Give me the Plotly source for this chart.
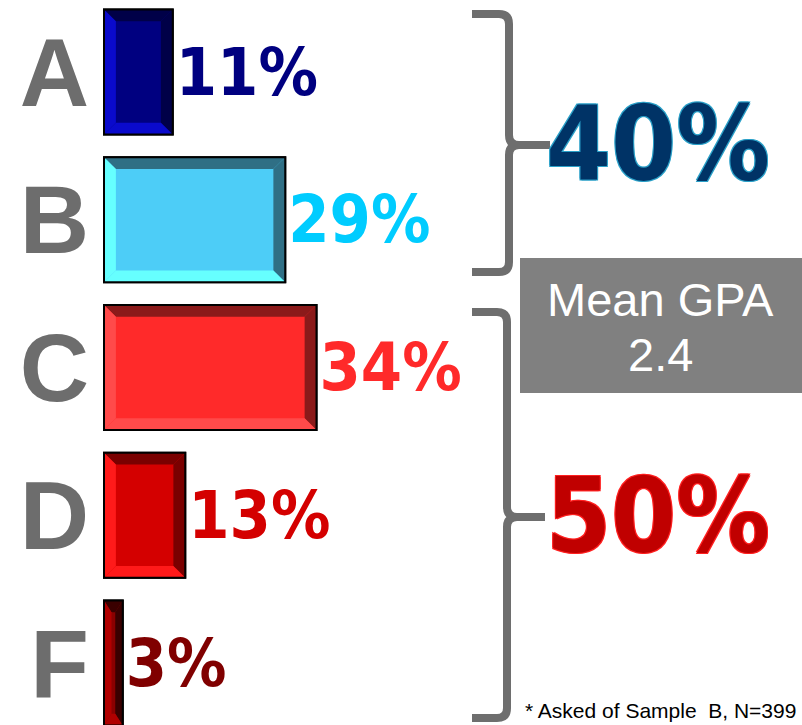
import plotly.graph_objects as go

grades = ["A", "B", "C", "D", "F"]
shares = [11, 29, 34, 13, 3]
bar_colors = ["#000080", "#4dcdf7", "#ff2a2a", "#d40000", "#8b0000"]
light_edge = ["#0a0acc", "#66ffff", "#ff4a4a", "#ff1a1a", "#b00000"]
dark_edge = ["#000048", "#2f6f85", "#8b1a1a", "#7a0000", "#3a0000"]
label_colors = ["#000080", "#00ccff", "#ff2a2a", "#d40000", "#800000"]
groups = ["40%", "50%"]
mean_gpa = "2.4"
footnote = "* Asked of Sample  B, N=399"

W, H = 802, 725
L = 100  # left margin in px
COND = "DejaVu Sans Condensed, Liberation Sans"


def px(x):
    return (x - L) / (W - L)


def py(y):
    return 1 - y / H


pos = list(range(len(grades)))
thick = 0.846

fig = go.Figure()
fig.add_trace(
    go.Bar(
        y=pos,
        x=shares,
        orientation="h",
        width=thick,
        marker=dict(color=bar_colors, line=dict(color="black", width=2)),
        text=[f"{v}%" for v in shares],
        textposition="outside",
        constraintext="none",
        cliponaxis=False,
        textfont=dict(family=COND, size=66, color=label_colors, weight="bold"),
        hoverinfo="skip",
    )
)

# bevel edges on every bar
bx, by = 1.9, 0.08
shapes = []
for i, v in enumerate(shares):
    top, bot = i - thick / 2, i + thick / 2
    b = min(bx, v / 2.5)
    polys = [
        ([(0, top), (v, top), (v - b, top + by), (b, top + by)], dark_edge[i]),
        ([(v, top), (v, bot), (v - b, bot - by), (v - b, top + by)], dark_edge[i]),
        ([(0, top), (b, top + by), (b, bot - by), (0, bot)], light_edge[i]),
        ([(0, bot), (b, bot - by), (v - b, bot - by), (v, bot)], light_edge[i]),
    ]
    for pts, col in polys:
        path = "M " + " L ".join(f"{x},{y}" for x, y in pts) + " Z"
        shapes.append(dict(type="path", xref="x", yref="y", path=path,
                           fillcolor=col, line=dict(width=0)))
    shapes.append(dict(type="rect", xref="x", yref="y", x0=0, x1=v, y0=top, y1=bot,
                       line=dict(color="black", width=2), fillcolor="rgba(0,0,0,0)"))


def brace(top, mid, bot, vx, tip):
    r = 10
    pts = [
        f"M {px(472)},{py(top)}",
        f"L {px(vx - r)},{py(top)}",
        f"Q {px(vx)},{py(top)} {px(vx)},{py(top + r)}",
        f"L {px(vx)},{py(mid - r)}",
        f"Q {px(vx)},{py(mid)} {px(vx + r)},{py(mid)}",
        f"L {px(tip)},{py(mid)}",
        f"M {px(vx + r)},{py(mid)}",
        f"Q {px(vx)},{py(mid)} {px(vx)},{py(mid + r)}",
        f"L {px(vx)},{py(bot - r)}",
        f"Q {px(vx)},{py(bot)} {px(vx - r)},{py(bot)}",
        f"L {px(472)},{py(bot)}",
    ]
    return dict(type="path", xref="paper", yref="paper", path=" ".join(pts),
                line=dict(color="#6e6e6e", width=8))


shapes.append(brace(14, 145, 272, 509, 550))
shapes.append(brace(312, 517, 718, 507, 545))
shapes.append(dict(type="rect", xref="paper", yref="paper",
                   x0=px(520), x1=px(802), y0=py(258), y1=py(393),
                   fillcolor="#808080", line=dict(width=0), layer="below"))


def note(x, y, text, font, xanchor="center"):
    return dict(x=px(x), y=py(y), text=text, showarrow=False, xref="paper", yref="paper",
                xanchor=xanchor, yanchor="middle", font=font)


outline_blue = "1px 1px 0 #2aa0c8, -1px -1px 0 #2aa0c8, 1px -1px 0 #2aa0c8, -1px 1px 0 #2aa0c8"
outline_red = "1px 1px 0 #ff2020, -1px -1px 0 #ff2020, 1px -1px 0 #ff2020, -1px 1px 0 #ff2020"
annotations = [
    note(658, 144, groups[0], dict(family=COND, size=104, color="#003366", weight="bold",
                                   shadow=outline_blue)),
    note(658, 516, groups[1], dict(family=COND, size=104, color="#c00000", weight="bold",
                                   shadow=outline_red)),
    note(660, 300, "Mean GPA", dict(family="Liberation Sans", size=47, color="white")),
    note(660, 354, mean_gpa, dict(family="Liberation Sans", size=47, color="white")),
    note(798, 710, footnote, dict(family="Liberation Sans", size=21, color="black"),
         xanchor="right"),
]

pct_per_px = 1 / 6.25
fig.update_layout(
    width=W,
    height=H,
    margin=dict(l=L, r=0, t=0, b=0),
    paper_bgcolor="white",
    plot_bgcolor="white",
    showlegend=False,
    shapes=shapes,
    annotations=annotations,
    xaxis=dict(range=[-4 * pct_per_px, -4 * pct_per_px + (W - L) * pct_per_px],
               visible=False, fixedrange=True, automargin=False),
    yaxis=dict(range=[(H - 72) / 147.75, -72 / 147.75], tickvals=pos, ticktext=grades,
               showgrid=False, zeroline=False, showline=False, ticks="", ticklabelstandoff=10,
               tickfont=dict(family="Liberation Sans", size=96, color="#6d6d6d", weight="bold"),
               fixedrange=True, automargin=False),
)

fig.write_html("out.html", post_script="document.body.style.margin='0';",
               config={"displayModeBar": False})
